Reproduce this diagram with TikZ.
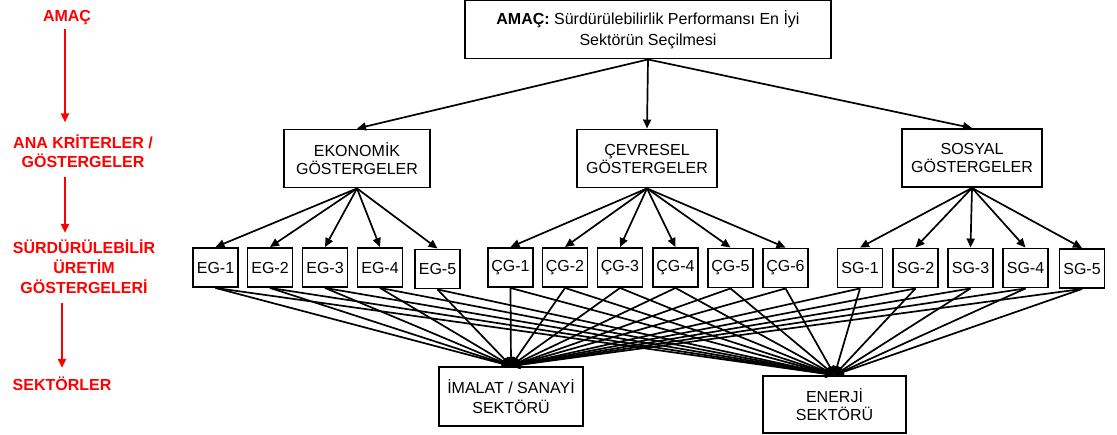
\documentclass[tikz,border=0pt]{standalone}
\usepackage{fontspec}
\setmainfont{Liberation Sans}
\usetikzlibrary{arrows.meta}
\begin{document}
\begin{tikzpicture}[x=1pt,y=-1pt,
  box/.style={draw, line width=1.9pt, inner sep=0pt, align=center,
    font=\fontsize{16}{19}\selectfont},
  small/.style={box, minimum width=45pt, minimum height=39pt},
  group/.style={box, minimum width=143pt, minimum height=58pt, font=\fontsize{16}{18}\selectfont},
  level/.style={text=red, inner sep=0pt, align=center,
    font=\fontsize{16}{19}\selectfont\bfseries},
  link/.style={line width=1.7pt, -{Triangle[length=9pt,width=8pt]}},
  redlink/.style={draw=red, line width=2.4pt, -{Triangle[length=9pt,width=8pt]}}
]
\useasboundingbox (0,0) rectangle (1117,435);

% level labels on the left
\node[level] (amac) at (67,18) {AMAÇ};
\node[level] (ana) at (83,151) {ANA KRİTERLER /\\GÖSTERGELER};
\node[level, font=\fontsize{16}{20}\selectfont\bfseries] (sur) at (84,267) {SÜRDÜRÜLEBİLİR\\ÜRETİM\\GÖSTERGELERİ};
\node[level] (sek) at (62,384) {SEKTÖRLER};

\draw[redlink, shorten <=4pt, shorten >=12pt] (amac.south -| 65,0) -- (ana.north -| 65,0);
\draw[redlink, shorten <=9pt, shorten >=7pt] (ana.south -| 65,0) -- (sur.north -| 65,0);
\draw[redlink, shorten <=9pt, shorten >=9pt] (sur.south -| sek.north) -- (sek.north);

% goal
\node[box, minimum width=366pt, minimum height=58pt, font=\fontsize{16}{21}\selectfont] (goal) at (648,29.5)
  {\textbf{AMAÇ:} Sürdürülebilirlik Performansı En İyi\\Sektörün Seçilmesi};

% main criteria
\node[group, minimum width=146pt] (eko) at (357,158.5) {EKONOMİK\\GÖSTERGELER};
\node[group, minimum width=140pt] (cev) at (647,158.5) {ÇEVRESEL\\GÖSTERGELER};
\node[group, minimum width=140pt] (sos) at (972,158) {SOSYAL\\GÖSTERGELER};

% indicators
\node[small] (eg1) at (215.5,267.5) {EG-1};
\node[small] (eg2) at (270,267.5) {EG-2};
\node[small] (eg3) at (325,267.5) {EG-3};
\node[small] (eg4) at (380,267.5) {EG-4};
\node[small] (eg5) at (437.5,269) {EG-5};

\node[small] (cg1) at (510.5,267.5) {ÇG-1};
\node[small] (cg2) at (565,267.5) {ÇG-2};
\node[small] (cg3) at (620,267.5) {ÇG-3};
\node[small] (cg4) at (675.5,267.5) {ÇG-4};
\node[small] (cg5) at (730.5,268) {ÇG-5};
\node[small] (cg6) at (785.5,268) {ÇG-6};

\node[small] (sg1) at (860,268) {SG-1};
\node[small] (sg2) at (915.5,268) {SG-2};
\node[small] (sg3) at (970.5,268) {SG-3};
\node[small] (sg4) at (1025.5,268) {SG-4};
\node[small] (sg5) at (1082,268.5) {SG-5};

% sectors
\node[box, minimum width=144pt, minimum height=59pt, font=\fontsize{16}{20}\selectfont] (ima) at (511,396.5) {İMALAT / SANAYİ\\SEKTÖRÜ};
\node[box, minimum width=143pt, minimum height=57pt, font=\fontsize{16}{18}\selectfont] (ene) at (834.5,404.5) {ENERJİ\\SEKTÖRÜ};

% goal to main criteria
\foreach \g in {eko,cev,sos} \draw[link] (goal.south) -- (\g.north);

% main criteria to indicators
\foreach \i in {eg1,eg2,eg3,eg4,eg5} \draw[link] (eko.south) -- (\i.north);
\foreach \i in {cg1,cg2,cg3,cg4,cg5,cg6} \draw[link] (cev.south) -- (\i.north);
\foreach \i in {sg1,sg2,sg3,sg4,sg5} \draw[link] (sos.south) -- (\i.north);

% indicators to sectors
\foreach \i in {eg1,eg2,eg3,eg4,eg5,cg1,cg2,cg3,cg4,cg5,cg6,sg1,sg2,sg3,sg4,sg5} {
  \draw[link] (\i.south) -- (ima.north);
  \draw[link] (\i.south) -- (ene.north);
}
\end{tikzpicture}
\end{document}
